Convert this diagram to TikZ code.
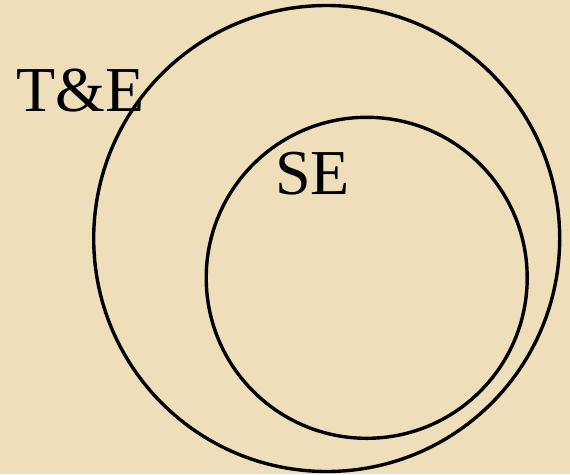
\documentclass[tikz,border=0pt]{standalone}
\usepackage{fontspec}
\setmainfont{Liberation Serif}
\usepackage{tikz}
\usetikzlibrary{positioning}
\definecolor{parchBg}{HTML}{EFDEBA}
\definecolor{inkDark}{HTML}{000000}

\begin{document}
\begin{tikzpicture}[x=1pt, y=-1pt,
    aro/.style={draw=inkDark, circle, line width=3.4pt, inner sep=0pt},
    rotulo/.style={anchor=base west, inner sep=0pt, text=inkDark,
                   font=\fontsize{64}{72}\selectfont}]
    \fill[parchBg] (0,0) rectangle (570,474);
    \useasboundingbox (0,0) rectangle (570,474);
    \node[aro, minimum size=466pt] (te) at (326.7,238.5) {};
    \node[aro, minimum size=321pt] (se) at (366.7,277.8) {};
    \node[rotulo] (teLbl) at (16,111) {T\&E};
    \node[rotulo] (seLbl) at (275,194) {SE};
  \end{tikzpicture}
\end{document}
